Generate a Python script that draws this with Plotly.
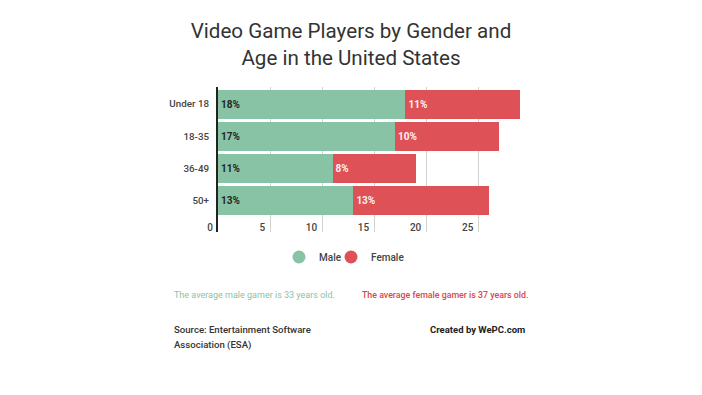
import plotly.graph_objects as go

categories = ["Under 18", "18-35", "36-49", "50+"]
male = [18, 17, 11, 13]
female = [11, 10, 8, 13]
x_ticks = [0, 5, 10, 15, 20, 25]

GREEN = "#88c3a6"
RED = "#de5156"
FONT = "Roboto"

ypos = list(range(len(categories)))

fig = go.Figure()
fig.add_trace(go.Bar(
    y=ypos, x=male, orientation="h", name="Male", marker=dict(color=GREEN, line=dict(width=0)),
    text=[f"{v}%" for v in male], textposition="inside", insidetextanchor="start",
    textfont=dict(family=FONT, size=10, color="#1e2a23", weight="bold"),
    width=0.9, showlegend=False, hoverinfo="x+name",
))
fig.add_trace(go.Bar(
    y=ypos, x=female, orientation="h", name="Female", marker=dict(color=RED, line=dict(width=0)),
    text=[f"{v}%" for v in female], textposition="inside", insidetextanchor="start",
    textfont=dict(family=FONT, size=10, color="#fdf0f0", weight="bold"),
    width=0.9, showlegend=False, hoverinfo="x+name",
))
# legend entries with circle markers
fig.add_trace(go.Scatter(x=[None], y=[None], mode="markers", name="Male", legend="legend",
                         marker=dict(color=GREEN, size=13, symbol="circle")))
fig.add_trace(go.Scatter(x=[None], y=[None], mode="markers", name="Female", legend="legend2",
                         marker=dict(color=RED, size=13, symbol="circle")))

L, R, T, B = 218, 182, 87, 163
W, H = 702, 395
pw, ph = W - L - R, H - T - B

def px(xp):
    return (xp - L) / pw

def py(yp):
    return (H - B - yp) / ph

leg_common = dict(
    orientation="h", xanchor="left", yanchor="middle", y=py(257),
    font=dict(family=FONT, size=10, color="#444", weight=500),
    itemwidth=30, bgcolor="rgba(0,0,0,0)",
)

fig.update_layout(
    width=W, height=H,
    margin=dict(l=L, r=R, t=T, b=B, pad=0),
    paper_bgcolor="white", plot_bgcolor="white",
    barmode="stack", bargap=0.1,
    font=dict(family=FONT, color="#444"),
    title=dict(
        text="Video Game Players by Gender and<br>Age in the United States",
        x=0.5, xanchor="center", y=1 - 38 / H, yanchor="middle",
        font=dict(family=FONT, size=20.6, color="#333"),
    ),
    xaxis=dict(
        range=[0, 29], tickvals=x_ticks, ticktext=[str(v) for v in x_ticks],
        showgrid=True, gridcolor="#d2d2d2", gridwidth=1, zeroline=False,
        showline=False, ticks="", ticklabelposition="outside left",
        ticklabelstandoff=-12, ticklabelshift=-5,
        tickfont=dict(family=FONT, size=10, color="#444", weight=500),
        fixedrange=True,
    ),
    yaxis=dict(
        range=[3.98, -0.53], tickvals=ypos, ticktext=categories,
        showgrid=False, zeroline=False, showline=True, linecolor="#222", linewidth=2,
        ticks="outside", ticklen=5, tickcolor="rgba(0,0,0,0)",
        tickfont=dict(family=FONT, size=9.8, color="#444", weight=500),
        fixedrange=True,
    ),
    legend=dict(x=px(279), **leg_common),
    legend2=dict(x=px(331), **leg_common),
    annotations=[
        dict(text="The average male gamer is 33 years old.", xref="paper", yref="paper",
             x=px(172), y=py(295), xanchor="left", yanchor="middle", showarrow=False,
             font=dict(family=FONT, size=9, color=GREEN)),
        dict(text="The average female gamer is 37 years old.", xref="paper", yref="paper",
             x=px(360), y=py(295), xanchor="left", yanchor="middle", showarrow=False,
             font=dict(family=FONT, size=8.8, color="#d8474c", weight=500)),
        dict(text="Source: Entertainment Software", xref="paper", yref="paper",
             x=px(172), y=py(329), xanchor="left", yanchor="middle", showarrow=False,
             font=dict(family=FONT, size=9.6, color="#333", weight=500)),
        dict(text="Association (ESA)", xref="paper", yref="paper",
             x=px(172), y=py(345), xanchor="left", yanchor="middle", showarrow=False,
             font=dict(family=FONT, size=9.6, color="#333", weight=500)),
        dict(text="Created by WePC.com", xref="paper", yref="paper",
             x=px(527), y=py(329), xanchor="right", yanchor="middle", showarrow=False,
             font=dict(family=FONT, size=9.5, color="#222", weight="bold")),
    ],
)

fig.write_html("out.html", config={"displayModeBar": False},
               post_script="document.body.style.margin='0';")
